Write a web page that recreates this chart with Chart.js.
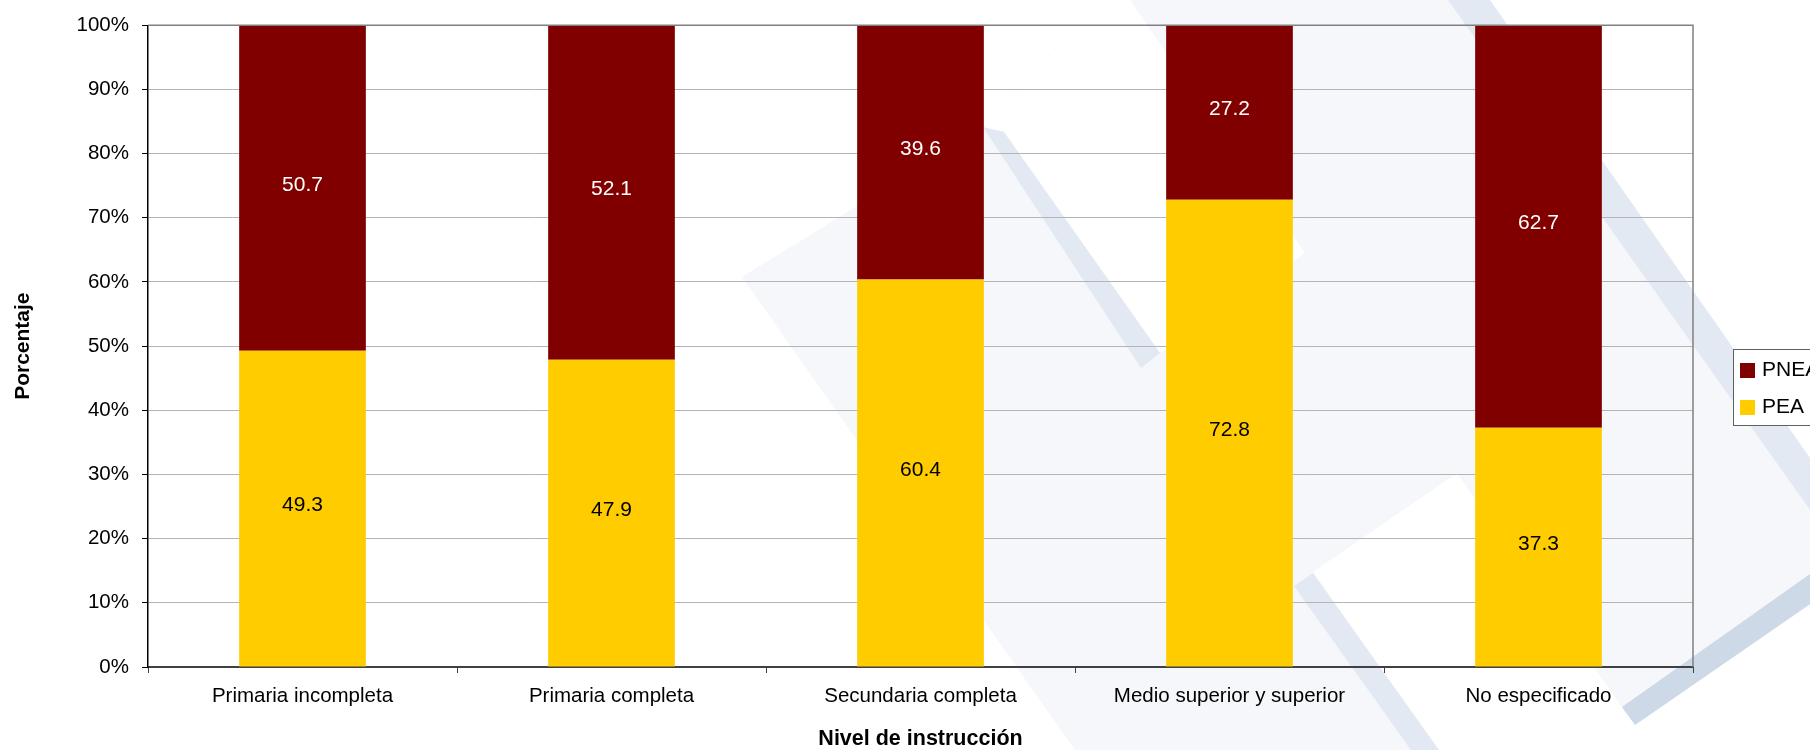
<!DOCTYPE html>
<html>
<head>
<meta charset="utf-8">
<script src="https://cdn.jsdelivr.net/npm/chart.js@4.4.1/dist/chart.umd.min.js"></script>
<style>
  html, body { margin: 0; padding: 0; background: #ffffff; }
  #wrap { width: 1810px; height: 750px; position: relative; }
</style>
</head>
<body>
<div id="wrap"><canvas id="c"></canvas></div>
<script>
// ---- data ----
const categories = ['Primaria incompleta', 'Primaria completa', 'Secundaria completa', 'Medio superior y superior', 'No especificado'];
const peaValues  = [49.3, 47.9, 60.4, 72.8, 37.3];
const pneaValues = [50.7, 52.1, 39.6, 27.2, 62.7];
const seriesNames = ['PEA', 'PNEA'];
const seriesColors = ['#FFCC00', '#800000'];
const valueLabelColors = ['#000000', '#FFFFFF'];
const yTickStep = 10;
const yMin = 0;
const yMax = 100;
const xTitle = 'Nivel de instrucción';
const yTitle = 'Porcentaje';

const FONT = "'Liberation Sans', Arial, sans-serif";

// ---- decorative background watermark (canvas pixels) ----
const WM_GRAY = '#f5f7fa';
const WM_BLUE = '#e3e9f2';
const WM_BLUE_DARK = '#cdd9e6';
const wmGray  = [[742,277],[983,128],[1100,0],[1448,0],[1810,510],[1810,750],[1075,750]];
const wmWhite = [
  [[983,128],[1004,132],[1160,353],[1305,253],[1130,0],[1100,0]],
  [[1313,572],[1457,473],[1622,707],[1635,725],[1810,605],[1810,750],[1437,750]]
];
const wmStripes = [
  [[983,127],[1004,132],[1160,353],[1141,368]],
  [[1448,0],[1490,0],[1810,458],[1810,510]],
  [[1294,586],[1313,573],[1439,750],[1411,750]]
];
const wmStripesDark = [
  [[1622,707],[1810,574],[1810,604],[1635,725]]
];

function poly(ctx, pts, color) {
  ctx.beginPath();
  ctx.moveTo(pts[0][0], pts[0][1]);
  for (let i = 1; i < pts.length; i++) ctx.lineTo(pts[i][0], pts[i][1]);
  ctx.closePath();
  ctx.fillStyle = color;
  ctx.fill();
}

const watermarkPlugin = {
  id: 'watermark',
  beforeDraw(chart) {
    const ctx = chart.ctx;
    ctx.save();
    ctx.fillStyle = '#ffffff';
    ctx.fillRect(0, 0, chart.width, chart.height);
    poly(ctx, wmGray, WM_GRAY);
    wmWhite.forEach(p => poly(ctx, p, '#ffffff'));
    wmStripes.forEach(p => poly(ctx, p, WM_BLUE));
    wmStripesDark.forEach(p => poly(ctx, p, WM_BLUE_DARK));
    ctx.restore();
  }
};

const framePlugin = {
  id: 'frame',
  afterDatasetsDraw(chart) {
    const ctx = chart.ctx;
    const a = chart.chartArea;
    ctx.save();
    ctx.strokeStyle = '#808080';
    ctx.lineWidth = 1.5;
    ctx.beginPath();
    ctx.moveTo(a.left, a.top);
    ctx.lineTo(a.right, a.top);
    ctx.lineTo(a.right, a.bottom);
    ctx.stroke();
    ctx.restore();
  }
};

const valueLabelPlugin = {
  id: 'valueLabels',
  afterDatasetsDraw(chart) {
    const ctx = chart.ctx;
    ctx.save();
    ctx.font = '21px ' + FONT;
    ctx.textAlign = 'center';
    ctx.textBaseline = 'middle';
    chart.data.datasets.forEach((ds, di) => {
      const meta = chart.getDatasetMeta(di);
      meta.data.forEach((el, i) => {
        const p = el.getProps(['x', 'y', 'base'], true);
        ctx.fillStyle = valueLabelColors[di];
        ctx.fillText(ds.data[i].toFixed(1), p.x, (p.y + p.base) / 2 - 3);
      });
    });
    ctx.restore();
  }
};

const legendPlugin = {
  id: 'boxLegend',
  afterDraw(chart) {
    const ctx = chart.ctx;
    const a = chart.chartArea;
    const bx = a.right + 40.5, by = 349.5, bw = 120, bh = 76;
    ctx.save();
    ctx.fillStyle = '#ffffff';
    ctx.fillRect(bx, by, bw, bh);
    ctx.strokeStyle = '#606060';
    ctx.lineWidth = 1;
    ctx.strokeRect(bx, by, bw, bh);
    ctx.font = '21px ' + FONT;
    ctx.textAlign = 'left';
    ctx.textBaseline = 'middle';
    const items = chart.data.datasets.map((d, i) => ({label: d.label, color: d.backgroundColor})).reverse();
    items.forEach((it, k) => {
      const cy = 370.5 + k * 37;
      ctx.fillStyle = it.color;
      ctx.fillRect(bx + 6.5, cy - 7.5, 15, 15);
      ctx.fillStyle = '#000000';
      ctx.fillText(it.label, bx + 28.5, cy);
    });
    ctx.restore();
  }
};

const yTicksCount = (yMax - yMin) / yTickStep;

new Chart(document.getElementById('c'), {
  type: 'bar',
  data: {
    labels: categories,
    datasets: [
      { label: seriesNames[0], data: peaValues,  backgroundColor: seriesColors[0], borderWidth: 0 },
      { label: seriesNames[1], data: pneaValues, backgroundColor: seriesColors[1], borderWidth: 0 }
    ]
  },
  options: {
    responsive: true,
    maintainAspectRatio: false,
    animation: false,
    devicePixelRatio: 1,
    layout: { padding: { top: 23, right: 117, left: 0, bottom: 0 } },
    datasets: { bar: { categoryPercentage: 1.0, barPercentage: 0.41 } },
    plugins: {
      legend: { display: false },
      tooltip: { enabled: false },
      title: { display: false }
    },
    scales: {
      x: {
        stacked: true,
        afterFit(s) { s.height = 83; },
        grid: { display: true, drawOnChartArea: false, drawTicks: true, tickLength: 6, tickColor: '#404040', offset: true },
        border: { display: true, color: '#404040', width: 2 },
        ticks: { color: '#000000', font: { family: FONT, size: 20.5 }, padding: 11, maxRotation: 0, autoSkip: false },
        title: { display: true, text: xTitle, color: '#000000', font: { family: FONT, size: 21.5, weight: 'bold', lineHeight: 1 }, padding: { top: 0, bottom: 0 } }
      },
      y: {
        stacked: true,
        min: yMin,
        max: yMax,
        afterFit(s) { s.width = 148; },
        grid: { color: '#b4b4b4', lineWidth: 1, drawTicks: true, tickLength: 6, tickColor: '#000000' },
        border: { display: true, color: '#000000', width: 1.5 },
        ticks: { stepSize: yTickStep, count: yTicksCount + 1, color: '#000000', font: { family: FONT, size: 20.5 }, padding: 13, callback: v => v + '%' },
        title: { display: true, text: yTitle, color: '#000000', font: { family: FONT, size: 21, weight: 'bold', lineHeight: 1 }, padding: { top: 13, bottom: 0 } }
      }
    }
  },
  plugins: [watermarkPlugin, framePlugin, valueLabelPlugin, legendPlugin]
});
</script>
</body>
</html>
